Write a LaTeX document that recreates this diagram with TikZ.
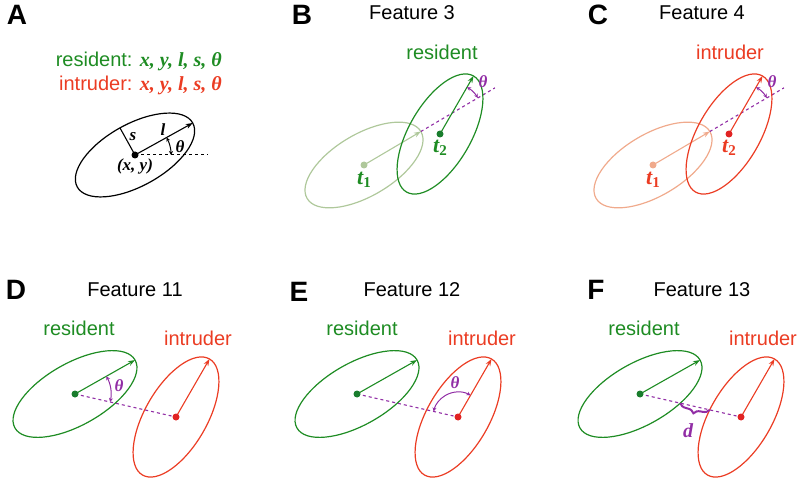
\documentclass[tikz,border=0pt]{standalone}
\usepackage{fontspec}
\setmainfont{Liberation Serif}
\setsansfont{Liberation Sans}
\usetikzlibrary{arrows.meta,calc,decorations.pathreplacing}
\definecolor{grn}{RGB}{30,140,35}
\definecolor{dgrn}{RGB}{25,125,45}
\definecolor{lgrn}{RGB}{175,200,155}
\definecolor{red1}{RGB}{235,60,35}
\definecolor{dred}{RGB}{225,35,35}
\definecolor{lorg}{RGB}{240,170,140}
\definecolor{purp}{RGB}{145,45,165}
\begin{document}
\begin{tikzpicture}[x=1pt,y=1pt,
  lbl/.style={font=\sffamily\bfseries\fontsize{28}{30}\selectfont,inner sep=0},
  ttl/.style={font=\sffamily\fontsize{20}{24}\selectfont,inner sep=0},
  mth/.style={font=\rmfamily\bfseries\itshape\fontsize{17}{20}\selectfont,inner sep=0},
  tlab/.style={font=\rmfamily\bfseries\itshape\fontsize{22}{24}\selectfont,inner sep=0},
  ell/.style={line width=1.2pt},
  arr/.style={line width=1.1pt,-{Stealth[length=7pt,width=5pt]}},
  ang/.style={purp,line width=1pt,{Stealth[length=4pt,width=4pt]}-{Stealth[length=4pt,width=4pt]}},
  angb/.style={black,line width=1pt,{Stealth[length=4pt,width=4pt]}-{Stealth[length=4pt,width=4pt]}},
  dsh/.style={purp,line width=1.1pt,dash pattern=on 3pt off 3pt},
  dot/.style={circle,inner sep=0,minimum size=7pt}
]
\useasboundingbox (0,0) rectangle (805,493);
\newcommand{\sub}[1]{\raisebox{-0.35ex}{\upshape\fontsize{15}{16}\selectfont #1}}

% ---------- Panel A ----------
\node[lbl] (LA) at (17,478) {A};
\node[ttl,text=grn,anchor=east] (resA) at (222,432) {resident: {\rmfamily\bfseries\itshape x, y, l, s, θ}};
\node[ttl,text=red1,anchor=east] (intA) at (222,408) {intruder: {\rmfamily\bfseries\itshape x, y, l, s, θ}};
\coordinate (a0) at (135,338);
\draw[ell] (a0) circle[x radius=66,y radius=31,rotate=29];
\coordinate (aT) at ($(a0)+(29:66)$);
\coordinate (aS) at ($(a0)+(119:31)$);
\coordinate (aD) at (208,338);
\draw[line width=1.1pt] (a0) -- (aS);
\draw[arr] (a0) -- (aT);
\draw[line width=1pt,dash pattern=on 3pt off 3pt] (a0) -- (aD);
\draw[angb] ($(a0)+(0:36)$) arc[start angle=0,end angle=29,radius=36];
\node[dot,fill=black] (a0d) at (a0) {};
\node[mth] (sA) at (133,356) {s};
\node[mth] (lA) at (163,363) {l};
\node[mth] (thA) at (180,346) {θ};
\node[mth] (xyA) at (135,327) {(x, y)};

% ---------- Panel B ----------
\node[lbl] (LB) at (302,478) {B};
\node[ttl] (fB) at (412,480) {Feature 3};
\node[ttl,text=grn] (rB) at (442,441) {resident};
\coordinate (b1) at (364,328);
\coordinate (b2) at (440,359);
\coordinate (b1t) at ($(b1)+(30.5:66)$);
\coordinate (b1e) at ($(b1)+(30.5:152)$);
\coordinate (b2t) at ($(b2)+(60:67)$);
\coordinate (bx) at ($(b1)+(30.5:102.1)$);
\draw[ell,lgrn] (b1) circle[x radius=66,y radius=31,rotate=30.5];
\draw[arr,lgrn] (b1) -- (b1t);
\draw[dsh] (b1t) -- (b1e);
\draw[ell,grn] (b2) circle[x radius=67,y radius=31,rotate=60];
\draw[arr,grn] (b2) -- (b2t);
\draw[ang] ($(bx)+(30.5:30)$) arc[start angle=30.5,end angle=60,radius=30];
\node[dot,fill=lgrn] (b1d) at (b1) {};
\node[dot,fill=dgrn] (b2d) at (b2) {};
\node[tlab,text=grn] (t1B) at (364,313) {t\sub{1}};
\node[tlab,text=grn] (t2B) at (440,345) {t\sub{2}};
\node[mth,text=purp] (thB) at (483,411) {θ};

% ---------- Panel C ----------
\node[lbl] (LC) at (598,478) {C};
\node[ttl] (fC) at (702,480) {Feature 4};
\node[ttl,text=red1] (iC) at (730,441) {intruder};
\coordinate (c1) at (653,328);
\coordinate (c2) at (729,359);
\coordinate (c1t) at ($(c1)+(30.5:66)$);
\coordinate (c1e) at ($(c1)+(30.5:152)$);
\coordinate (c2t) at ($(c2)+(60:67)$);
\coordinate (cx) at ($(c1)+(30.5:102.1)$);
\draw[ell,lorg] (c1) circle[x radius=66,y radius=31,rotate=30.5];
\draw[arr,lorg] (c1) -- (c1t);
\draw[dsh] (c1t) -- (c1e);
\draw[ell,red1] (c2) circle[x radius=67,y radius=31,rotate=60];
\draw[arr,red1] (c2) -- (c2t);
\draw[ang] ($(cx)+(30.5:30)$) arc[start angle=30.5,end angle=60,radius=30];
\node[dot,fill=lorg] (c1d) at (c1) {};
\node[dot,fill=dred] (c2d) at (c2) {};
\node[tlab,text=red1] (t1C) at (653,313) {t\sub{1}};
\node[tlab,text=red1] (t2C) at (729,345) {t\sub{2}};
\node[mth,text=purp] (thC) at (772,411) {θ};

% ---------- Panel D ----------
\node[lbl] (LD) at (16,203) {D};
\node[ttl] (fD) at (135,203) {Feature 11};
\node[ttl,text=grn] (rD) at (79,165) {resident};
\node[ttl,text=red1] (iD) at (198,155) {intruder};
\coordinate (dg) at (75,99);
\coordinate (dr) at (176,76);
\coordinate (dgt) at ($(dg)+(29.5:69)$);
\coordinate (drt) at ($(dr)+(60:67)$);
\draw[ell,grn] (dg) circle[x radius=69,y radius=31,rotate=29.5];
\draw[ell,red1] (dr) circle[x radius=67,y radius=31,rotate=60];
\draw[dsh] (dg) -- (dr);
\draw[arr,grn] (dg) -- (dgt);
\draw[arr,red1] (dr) -- (drt);
\draw[ang] ($(dg)+(-12.8:36)$) arc[start angle=-12.8,end angle=29.5,radius=36];
\node[dot,fill=dgrn] (dgd) at (dg) {};
\node[dot,fill=dred] (drd) at (dr) {};
\node[mth,text=purp] (thD) at (119,107) {θ};

% ---------- Panel E ----------
\node[lbl] (LE) at (299,201) {E};
\node[ttl] (fE) at (412,203) {Feature 12};
\node[ttl,text=grn] (rE) at (362,165) {resident};
\node[ttl,text=red1] (iE) at (482,155) {intruder};
\coordinate (eg) at (357,99);
\coordinate (er) at (458,76);
\coordinate (egt) at ($(eg)+(29.5:69)$);
\coordinate (ert) at ($(er)+(60:67)$);
\draw[ell,grn] (eg) circle[x radius=69,y radius=31,rotate=29.5];
\draw[ell,red1] (er) circle[x radius=67,y radius=31,rotate=60];
\draw[dsh] (eg) -- (er);
\draw[arr,grn] (eg) -- (egt);
\draw[arr,red1] (er) -- (ert);
\draw[ang] ($(er)+(60:25)$) arc[start angle=60,end angle=167.2,radius=25];
\node[dot,fill=dgrn] (egd) at (eg) {};
\node[dot,fill=dred] (erd) at (er) {};
\node[mth,text=purp] (thE) at (455,110) {θ};

% ---------- Panel F ----------
\node[lbl] (LF) at (596,203) {F};
\node[ttl] (fF) at (702,203) {Feature 13};
\node[ttl,text=grn] (rF) at (644,165) {resident};
\node[ttl,text=red1] (iF) at (763,155) {intruder};
\coordinate (fg) at (640,99);
\coordinate (fr) at (741,76);
\coordinate (fgt) at ($(fg)+(29.5:69)$);
\coordinate (frt) at ($(fr)+(60:67)$);
\draw[ell,grn] (fg) circle[x radius=69,y radius=31,rotate=29.5];
\draw[ell,red1] (fr) circle[x radius=67,y radius=31,rotate=60];
\draw[dsh] (fg) -- (fr);
\draw[arr,grn] (fg) -- (fgt);
\draw[arr,red1] (fr) -- (frt);
\coordinate (fb1) at ($(fg)!41.3pt!(fr)$);
\coordinate (fb2) at ($(fr)!32.1pt!(fg)$);
\draw[purp,line width=2pt,decorate,decoration={brace,mirror,amplitude=7pt}] (fb1) -- (fb2);
\node[dot,fill=dgrn] (fgd) at (fg) {};
\node[dot,fill=dred] (frd) at (fr) {};
\node[mth,text=purp,font=\rmfamily\bfseries\itshape\fontsize{20}{22}\selectfont] (dF) at (688,62) {d};
\end{tikzpicture}
\end{document}
